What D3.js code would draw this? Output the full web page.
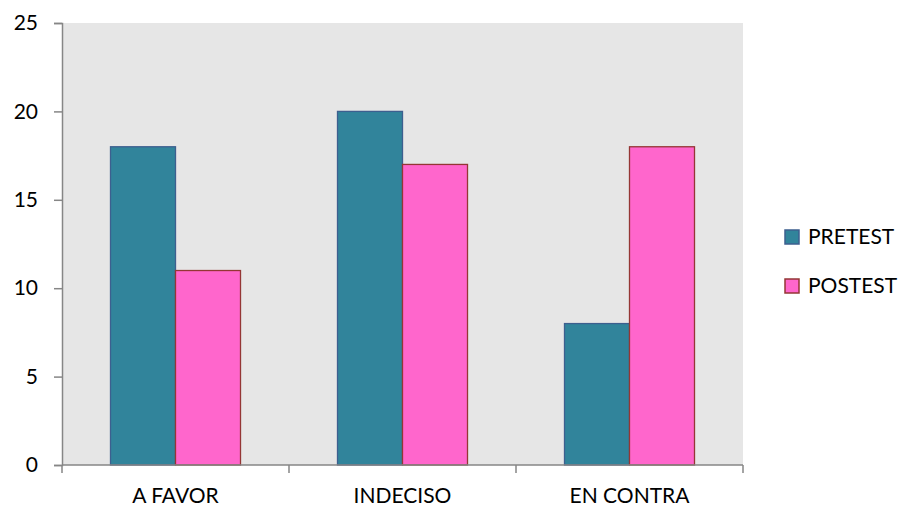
<!DOCTYPE html>
<html>
<head>
<meta charset="utf-8">
<script src="https://cdn.jsdelivr.net/npm/d3@7"></script>
<style>
  body { margin: 0; background: #fff; }
  svg { display: block; font-family: Lato, "Open Sans", "Liberation Sans", sans-serif; }
</style>
</head>
<body>
<svg id="chart" width="904" height="508"></svg>
<script>
// Opinion counts before and after the intervention
const categories = ["A FAVOR", "INDECISO", "EN CONTRA"];
const seriesNames = ["PRETEST", "POSTEST"];
const pretest = [18, 20, 8];
const postest = [11, 17, 18];
const yTicks = [0, 5, 10, 15, 20, 25];

const fills = { PRETEST: "#31849B", POSTEST: "#FF66CC" };
const strokes = { PRETEST: "#3D5F8F", POSTEST: "#943634" };

const svg = d3.select("#chart");
const plot = { left: 62, right: 743, top: 23, bottom: 465 };

const x = d3.scaleBand().domain(categories).range([plot.left, plot.right]).paddingInner(0).paddingOuter(0);
const xInner = d3.scaleBand().domain(seriesNames).range([0, x.bandwidth()]).paddingOuter(0.746).paddingInner(0);
const y = d3.scaleLinear().domain([0, 25]).range([plot.bottom, plot.top]);

// Plot background
svg.append("rect")
  .attr("x", plot.left).attr("y", plot.top)
  .attr("width", plot.right - plot.left).attr("height", plot.bottom - plot.top)
  .attr("fill", "#E6E6E6");

// Bars
const rows = categories.map((c, i) => ({ cat: c, values: [
  { s: "PRETEST", v: pretest[i] },
  { s: "POSTEST", v: postest[i] }
]}));

const groups = svg.append("g").selectAll("g").data(rows).join("g")
  .attr("transform", d => `translate(${x(d.cat)},0)`);

groups.selectAll("rect").data(d => d.values).join("rect")
  .attr("x", d => xInner(d.s))
  .attr("y", d => y(d.v))
  .attr("width", xInner.bandwidth())
  .attr("height", d => y(0) - y(d.v))
  .attr("fill", d => fills[d.s])
  .attr("stroke", d => strokes[d.s])
  .attr("stroke-width", 1.3);

// Y axis
const yAxis = d3.axisLeft(y).tickValues(yTicks).tickSize(8).tickPadding(16);
const gy = svg.append("g").attr("transform", `translate(${plot.left},0)`).call(yAxis);
gy.select(".domain").attr("stroke", "#868686").attr("stroke-width", 1.5);
gy.selectAll(".tick line").attr("stroke", "#868686").attr("stroke-width", 1.5);
gy.selectAll(".tick text").attr("font-size", 21).attr("fill", "#000").attr("font-family", "Lato, 'Open Sans', sans-serif");

// X axis with ticks on category boundaries
const gx = svg.append("g").attr("transform", `translate(0,${plot.bottom})`);
gx.append("line").attr("x1", plot.left).attr("x2", plot.right).attr("y1", 0).attr("y2", 0)
  .attr("stroke", "#868686").attr("stroke-width", 1.5);
const bounds = categories.map(c => x(c)).concat([plot.right]);
gx.selectAll("line.b").data(bounds).join("line").attr("class", "b")
  .attr("x1", d => d).attr("x2", d => d).attr("y1", 0).attr("y2", 8)
  .attr("stroke", "#868686").attr("stroke-width", 1.5);
gx.selectAll("text").data(categories).join("text")
  .attr("x", d => x(d) + x.bandwidth() / 2)
  .attr("y", 38)
  .attr("text-anchor", "middle")
  .attr("font-size", 21)
  .attr("fill", "#000")
  .text(d => d);

// Legend
const legend = svg.append("g").attr("transform", "translate(785,230)");
const li = legend.selectAll("g").data(seriesNames).join("g")
  .attr("transform", (d, i) => `translate(0,${i * 49})`);
li.append("rect").attr("width", 14).attr("height", 14)
  .attr("fill", d => fills[d]).attr("stroke", d => strokes[d]).attr("stroke-width", 1.5);
li.append("text").attr("x", 23).attr("y", 7).attr("dy", "0.35em")
  .attr("font-size", 21).attr("fill", "#000").text(d => d);
</script>
</body>
</html>
